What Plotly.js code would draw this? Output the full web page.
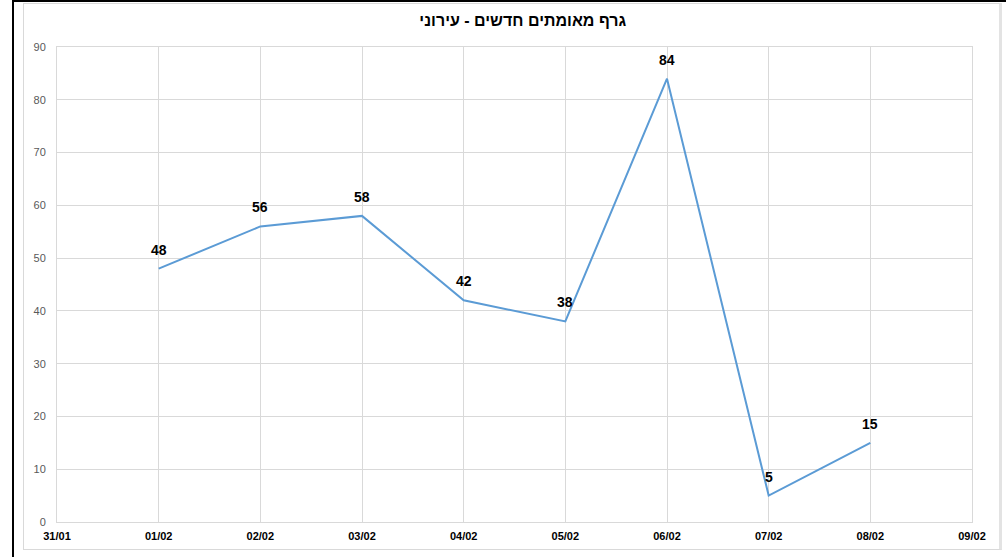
<!DOCTYPE html>
<html>
<head>
<meta charset="utf-8">
<script src="https://cdn.plot.ly/plotly-3.0.1.min.js"></script>
<style>
  html, body { margin: 0; padding: 0; background: #fff; width: 1006px; height: 557px; overflow: hidden; }
  #chart { position: absolute; left: 0; top: 0; width: 1006px; height: 557px; }
  .frame { position: absolute; pointer-events: none; }
</style>
</head>
<body>
<div id="chart"></div>
<div class="frame" style="left:12px; top:0; width:994px; height:557px; border-left:2px solid #000; border-top:2px solid #000; box-sizing:border-box;"></div>
<div class="frame" style="left:23px; top:3px; width:979px; height:547px; border:1px solid #d9d9d9; border-right:3px solid #e3e3e3; box-sizing:border-box;"></div>
<script>
const titleText = 'גרף מאומתים חדשים - עירוני';
const dates = ['2021-02-01','2021-02-02','2021-02-03','2021-02-04','2021-02-05','2021-02-06','2021-02-07','2021-02-08'];
const values = [48, 56, 58, 42, 38, 84, 5, 15];
const xRange = ['2021-01-31','2021-02-09'];
const yRange = [0, 90];

const font = 'Liberation Sans, DejaVu Sans, sans-serif';

const trace = {
  x: dates,
  y: values,
  type: 'scatter',
  mode: 'lines',
  line: { color: '#5B9BD5', width: 2 },
  hoverinfo: 'skip',
  cliponaxis: false
};

const annotations = dates.map((d, i) => ({
  x: d, y: values[i], xref: 'x', yref: 'y',
  text: String(values[i]),
  showarrow: false,
  yshift: 19,
  font: { family: font, size: 14, color: '#000', weight: 'bold' }
}));

const layout = {
  width: 1006, height: 557,
  margin: { l: 57, r: 34, t: 47, b: 35 },
  paper_bgcolor: '#fff', plot_bgcolor: '#fff',
  showlegend: false,
  title: {
    text: titleText,
    font: { family: font, size: 16, color: '#000', weight: 'bold' },
    x: 0.509, xanchor: 'center', xref: 'paper',
    y: 1 - 20/557, yanchor: 'middle', yref: 'container'
  },
  xaxis: {
    type: 'date',
    range: xRange,
    dtick: 86400000,
    tick0: '2021-01-31',
    tickformat: '%d/%m',
    showgrid: true, gridcolor: '#d9d9d9', gridwidth: 1,
    showline: true, linecolor: '#d9d9d9', linewidth: 1, mirror: true,
    zeroline: false,
    ticks: '',
    ticklabelstandoff: 4,
    tickfont: { family: font, size: 11, color: '#000', weight: 'bold' },
    fixedrange: true
  },
  yaxis: {
    range: yRange,
    dtick: 10,
    showgrid: true, gridcolor: '#d9d9d9', gridwidth: 1,
    showline: true, linecolor: '#d9d9d9', linewidth: 1, mirror: true,
    zeroline: false,
    ticks: '',
    ticklabelstandoff: 8,
    tickfont: { family: font, size: 11, color: '#595959' },
    fixedrange: true
  },
  annotations: annotations
};

Plotly.newPlot('chart', [trace], layout, { displayModeBar: false, staticPlot: true });
</script>
</body>
</html>
